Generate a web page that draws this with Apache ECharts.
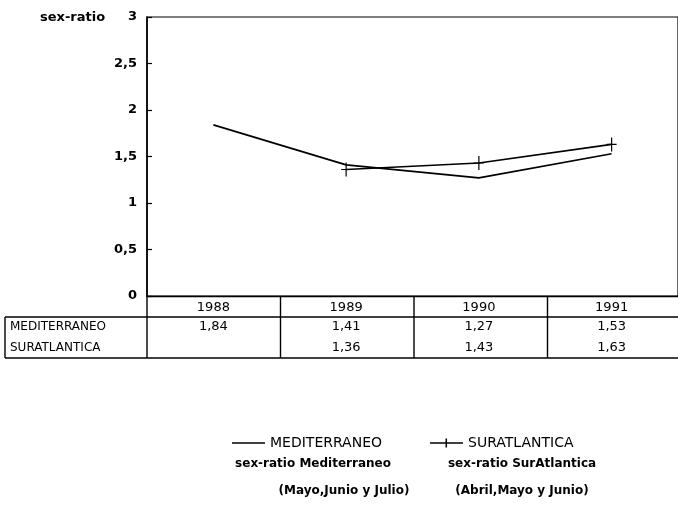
<!DOCTYPE html>
<html>
<head>
<meta charset="utf-8">
<script src="https://cdn.jsdelivr.net/npm/echarts@6/dist/echarts.min.js"></script>
<style>html,body{margin:0;padding:0;background:#fff}#c{width:678px;height:507px}</style>
</head>
<body>
<div id="c"></div>
<script>
const years = ['1988', '1989', '1990', '1991'];
const mediterraneo = [1.84, 1.41, 1.27, 1.53];
const suratlantica = [null, 1.36, 1.43, 1.63];
const rowNames = ['MEDITERRANEO', 'SURATLANTICA'];
const seriesNames = ['MEDITERRANEO', 'SURATLANTICA'];
const notes = [
  ['sex-ratio Mediterraneo', '(Mayo,Junio y Julio)'],
  ['sex-ratio SurAtlantica', '(Abril,Mayo y Junio)']
];

const FONT = 'DejaVu Sans';
const fmt = v => (v === null || v === undefined) ? '' : String(v).replace('.', ',');
const plus = 'path://M4.4,0H5.6V6.4H10V7.6H5.6V14H4.4V7.6H0V6.4H4.4Z';
const iconLine = 'path://M0,6.2H33V7.8H0Z';
const iconPlus = 'path://M0,6.2H15.5V2.5H17V6.2H33V7.8H17V11.5H15.5V7.8H0Z';

const GL = 147, GT = 17, GW = 534, GH = 279;

const chart = echarts.init(document.getElementById('c'), null, {renderer: 'canvas'});
const option = {
  animation: false,
  backgroundColor: '#fff',
  textStyle: {fontFamily: FONT, color: '#000'},
  grid: {left: GL, top: GT, width: GW, height: GH, show: true, borderColor: '#000', borderWidth: 1.2},
  legend: {
    left: 227, top: 431, itemWidth: 33, itemHeight: 14, itemGap: 48,
    textStyle: {fontFamily: FONT, fontSize: 14, color: '#000'},
    data: [{name: seriesNames[0], icon: iconLine}, {name: seriesNames[1], icon: iconPlus}]
  },
  xAxis: {
    type: 'category', data: years, boundaryGap: true,
    axisLine: {lineStyle: {color: '#000', width: 1.4}},
    axisTick: {inside: true, alignWithLabel: true, length: 6, lineStyle: {color: '#000', width: 1.2}},
    axisLabel: {color: '#000', fontSize: 13, fontFamily: FONT, margin: 5},
    splitLine: {show: false}
  },
  yAxis: {
    type: 'value', min: 0, max: 3, interval: 0.5,
    axisLine: {show: true, lineStyle: {color: '#000', width: 1.6}},
    axisTick: {show: true, inside: true, length: 5, lineStyle: {color: '#000', width: 1.2}},
    axisLabel: {color: '#000', fontSize: 13, fontWeight: 'bold', fontFamily: FONT, margin: 10, formatter: fmt},
    splitLine: {show: false}
  },
  series: [
    {name: seriesNames[0], type: 'line', data: mediterraneo, symbol: 'none', connectNulls: false,
     lineStyle: {color: '#000', width: 1.6}, itemStyle: {color: '#000'}},
    {name: seriesNames[1], type: 'line', data: suratlantica, symbol: plus, symbolSize: [10, 14],
     lineStyle: {color: '#000', width: 1.6}, itemStyle: {color: '#000'}}
  ]
};
chart.setOption(option);

const band = GW / years.length;
const xs = years.map(y => chart.convertToPixel({xAxisIndex: 0}, y));
const yHead = GT + GH, yRow = 317, yEnd = 358, xRight = GL + GW;
const g = [];
const line = (x1, y1, x2, y2) => g.push({type: 'line', shape: {x1, y1, x2, y2}, style: {stroke: '#000', lineWidth: 1.4}, silent: true});
line(5, yRow, xRight, yRow);
line(5, yEnd, xRight, yEnd);
line(5, yRow, 5, yEnd);
line(GL, yHead, GL, yEnd);
for (let i = 1; i < years.length; i++) line(GL + band * i, yHead, GL + band * i, yEnd);
const txt = (text, x, y, opts) => g.push({type: 'text', x, y, silent: true,
  style: Object.assign({text, fill: '#000', font: '12px "' + FONT + '"', textAlign: 'left', textVerticalAlign: 'middle'}, opts || {})});
const rows = [mediterraneo, suratlantica];
rows.forEach((r, ri) => {
  const y = 327 + ri * 21;
  txt(rowNames[ri], 10, y);
  r.forEach((v, i) => { if (v !== null) txt(fmt(v), xs[i], y, {textAlign: 'center', font: '13px "' + FONT + '"'}); });
});
txt('sex-ratio', 40, 18, {font: 'bold 13px "' + FONT + '"'});
txt(notes[0][0], 313, 464, {font: 'bold 12px "' + FONT + '"', textAlign: 'center'});
txt(notes[1][0], 522, 464, {font: 'bold 12px "' + FONT + '"', textAlign: 'center'});
txt(notes[0][1], 344, 491, {font: 'bold 12px "' + FONT + '"', textAlign: 'center'});
txt(notes[1][1], 522, 491, {font: 'bold 12px "' + FONT + '"', textAlign: 'center'});
chart.setOption({graphic: g});
</script>
</body>
</html>
